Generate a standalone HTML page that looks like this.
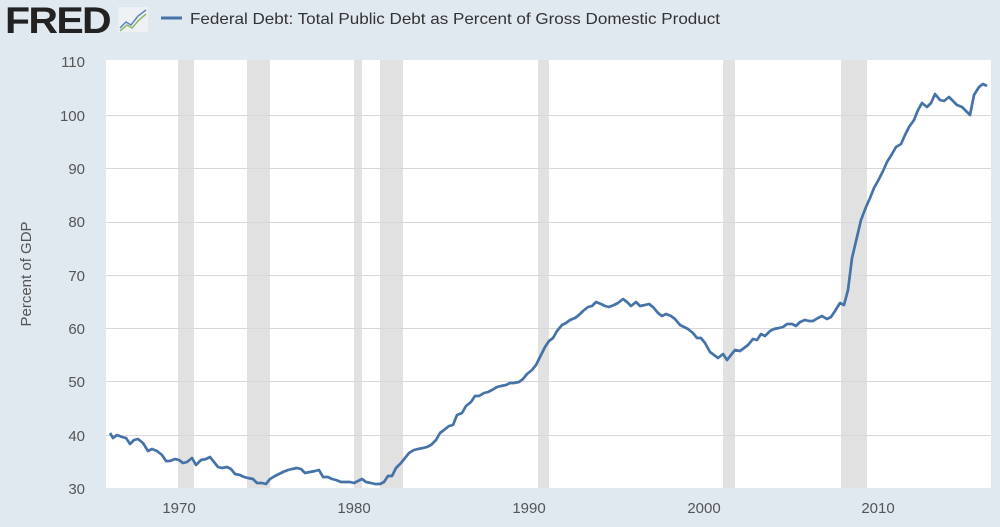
<!DOCTYPE html>
<html><head><meta charset="utf-8"><style>
html,body{margin:0;padding:0;background:#e1e9f0;width:1000px;height:527px;overflow:hidden}
svg{display:block}
text{font-family:"Liberation Sans",sans-serif}
</style></head><body>
<svg width="1000" height="527" viewBox="0 0 1000 527">
<rect width="1000" height="527" fill="#e1e9f0"/>
<text x="5" y="33" font-size="37" font-weight="bold" fill="#222" letter-spacing="-1.5" textLength="105" lengthAdjust="spacingAndGlyphs">FRED</text>
<rect x="118" y="7" width="30" height="25" fill="#eef1f4"/>
<polyline points="120,28 126,22 131,25 138,16 146,10" fill="none" stroke="#5b86b8" stroke-width="1.5"/>
<polyline points="120,31 127,25 132,28 139,20 146,14" fill="none" stroke="#8fb86b" stroke-width="1.5"/>
<line x1="161" y1="18" x2="182" y2="18" stroke="#4572a7" stroke-width="3"/>
<text x="190" y="24" font-size="16" fill="#333" textLength="530" lengthAdjust="spacingAndGlyphs">Federal Debt: Total Public Debt as Percent of Gross Domestic Product</text>
<rect x="106" y="60" width="885" height="428" fill="#fff"/>
<g fill="#e1e1e1">
<rect x="178" y="60" width="16" height="428"/>
<rect x="247" y="60" width="23" height="428"/>
<rect x="354" y="60" width="8" height="428"/>
<rect x="380" y="60" width="23" height="428"/>
<rect x="538" y="60" width="11" height="428"/>
<rect x="723" y="60" width="12" height="428"/>
<rect x="841" y="60" width="26" height="428"/>
</g>
<g stroke="#d8d8d8" stroke-width="1">
<line x1="106" x2="991" y1="115.5" y2="115.5"/>
<line x1="106" x2="991" y1="168.5" y2="168.5"/>
<line x1="106" x2="991" y1="222.5" y2="222.5"/>
<line x1="106" x2="991" y1="275.5" y2="275.5"/>
<line x1="106" x2="991" y1="328.5" y2="328.5"/>
<line x1="106" x2="991" y1="381.5" y2="381.5"/>
<line x1="106" x2="991" y1="435.5" y2="435.5"/>
</g>
<g font-size="15" fill="#555" text-anchor="end">
<text x="85" y="67">110</text><text x="85" y="121">100</text><text x="85" y="174">90</text>
<text x="85" y="227">80</text><text x="85" y="281">70</text><text x="85" y="334">60</text>
<text x="85" y="387">50</text><text x="85" y="441">40</text><text x="85" y="494">30</text>
</g>
<g font-size="15" fill="#555" text-anchor="middle">
<text x="179" y="513">1970</text><text x="354" y="513">1980</text><text x="529" y="513">1990</text>
<text x="704" y="513">2000</text><text x="878" y="513">2010</text>
</g>
<text transform="translate(31,274) rotate(-90)" font-size="15" fill="#555" text-anchor="middle">Percent of GDP</text>
<polyline fill="none" stroke="#4572a7" stroke-width="2.7" stroke-linejoin="round" points="110,433 113,438 117,435 122,437 126,438 130,444 134,440 138,439 143,443 148,451 152,449 157,451 162,455 166,461 170,461 175,459 179,460 183,463 187,462 192,458 196,465 201,460 206,459 210,457 214,462 218,467 222,468 227,467 231,469 235,474 240,475 244,477 248,478 253,479 257,483 262,483 266,484 270,479 275,476 279,474 283,472 288,470 292,469 297,468 301,469 305,473 310,472 315,471 319,470 323,477 328,477 332,479 336,480 341,482 345,482 350,482 354,483 358,481 362,479 366,482 371,483 375,484 380,484 384,482 388,476 392,476 396,468 401,463 405,458 409,453 414,450 418,449 423,448 427,447 431,445 436,440 440,433 444,430 449,426 453,425 457,415 462,413 466,406 471,402 475,396 479,396 484,393 488,392 492,390 497,387 501,386 506,385 510,383 514,383 519,382 523,379 527,374 532,370 536,365 540,357 545,347 549,341 553,338 557,331 562,325 566,323 570,320 575,318 579,315 583,311 588,307 592,306 596,302 601,304 605,306 609,307 614,305 618,303 623,299 627,302 631,306 636,302 640,306 645,305 649,304 653,307 658,313 662,316 666,314 671,316 675,319 680,325 684,327 688,329 693,333 697,338 701,338 705,343 710,352 714,355 718,358 723,354 727,360 731,355 735,350 740,351 744,348 748,345 753,339 757,340 761,334 765,336 770,331 774,329 779,328 783,327 787,324 792,324 796,326 800,322 805,320 809,321 813,321 818,318 822,316 827,319 831,317 835,311 840,303 844,305 848,290 852,258 857,237 861,220 866,207 870,198 874,188 879,179 883,171 887,162 892,154 896,147 901,144 905,135 909,127 914,120 918,110 922,103 927,107 931,103 935,94 940,100 944,101 949,97 953,101 957,105 962,107 966,111 970,115 974,95 979,87 983,84 987,86"/>
</svg>
</body></html>
